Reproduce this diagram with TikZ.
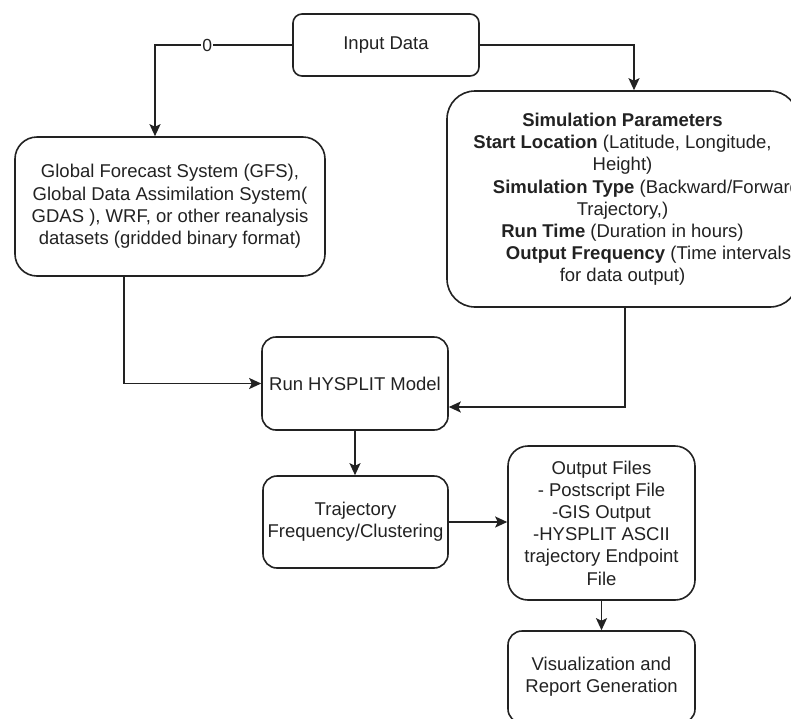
\documentclass[tikz,border=0pt]{standalone}
\usepackage{fontspec}
\setmainfont{Liberation Sans}
\usetikzlibrary{arrows.meta}
\definecolor{ink}{HTML}{222222}
\tikzset{
  box/.style={draw=ink, line width=1.6pt, fill=white, inner sep=0pt, align=center,
    text=ink, font=\fontsize{18.5}{22.2}\selectfont},
  arr/.style={draw=ink, line width=1.6pt, -{Stealth[length=12pt,width=11pt,inset=2.5pt]}},
  lbl/.style={fill=white, text=ink, inner sep=1pt, font=\fontsize{17.5}{20}\selectfont},
  plain/.style={inner sep=0pt, align=center, text=ink, font=\fontsize{18.5}{22.2}\selectfont}
}
\begin{document}
\begin{tikzpicture}[x=1pt,y=-1pt]
\useasboundingbox (0,0) rectangle (791,718);
\clip (0,0) rectangle (791,718);
\fill[white] (0,0) rectangle (791,718);

\node[box, rounded corners=9pt, minimum width=186pt, minimum height=62pt] (input) at (386,45) {Input Data};
\node[box, rounded corners=22pt, minimum width=310pt, minimum height=139pt] (gfs) at (170,206.5)
  {Global Forecast System (GFS),\\Global Data Assimilation System(\\GDAS ), WRF, or other reanalysis\\datasets (gridded binary format)};
\node[box, rounded corners=28pt, minimum width=351pt, minimum height=216pt] (sim) at (622.5,199) {};
\node[plain] (simtext) at (622.5,199.5)
  {\textbf{Simulation Parameters}\\
   \textbf{Start Location} (Latitude, Longitude,\\
   Height)\\
   \hspace*{48pt}\textbf{Simulation Type} (Backward/Forward\\
   Trajectory,)\\
   \textbf{Run Time} (Duration in hours)\\
   \hspace*{52pt}\textbf{Output Frequency} (Time intervals\\
   for data output)};
\node[box, rounded corners=14pt, minimum width=186pt, minimum height=93pt] (run) at (355,383.5) {Run HYSPLIT Model};
\node[box, rounded corners=14pt, minimum width=185pt, minimum height=92pt] (traj) at (355.5,522) {Trajectory\\Frequency/Clustering};
\node[box, rounded corners=20pt, minimum width=187pt, minimum height=154pt] (out) at (601.5,523)
  {Output Files\\- Postscript File\\-GIS Output\\-HYSPLIT ASCII\\trajectory Endpoint\\File};
\node[box, rounded corners=14pt, minimum width=187pt, minimum height=92pt] (vis) at (601.5,677) {Visualization and\\Report Generation};

\draw[arr] (input.west) -| ([xshift=-15pt]gfs.north) node[pos=0.31, lbl] (zero) {0};
\draw[arr] (input.east) -| ([xshift=11.5pt]sim.north);
\draw[arr] ([xshift=-46pt]gfs.south) |- (run.west);
\draw[arr] ([xshift=2.5pt]sim.south) |- ([yshift=-23.5pt]run.east);
\draw[arr] (run.south) -- (run.south |- traj.north);
\draw[arr] (traj.east) -- (traj.east -| out.west);
\draw[arr] (out.south) -- (vis.north);
\end{tikzpicture}
\end{document}
